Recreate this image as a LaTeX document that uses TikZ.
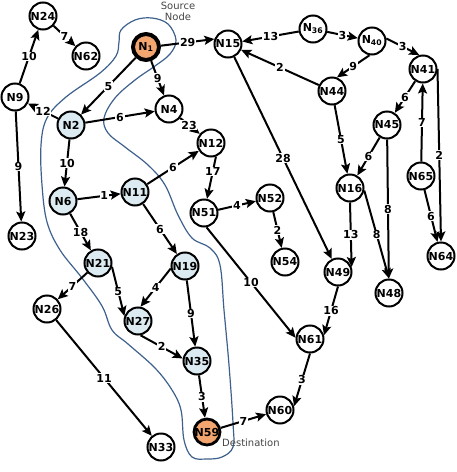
\documentclass[tikz,border=0pt]{standalone}
\usepackage{fontspec}
\setmainfont{DejaVu Sans}
\usepackage{tikz}
\usetikzlibrary{positioning, arrows.meta}

\definecolor{pathblue}{RGB}{219,235,241}
\definecolor{srcorange}{RGB}{243,165,112}
\definecolor{regionblue}{RGB}{62,96,140}
\definecolor{notegray}{RGB}{70,70,70}

\begin{document}
\begin{tikzpicture}[x=1pt, y=-1pt, on grid,
    vtx/.style={circle, draw, line width=2pt, minimum size=27pt, inner sep=0pt, fill=white, font=\fontsize{11}{12}\selectfont\bfseries},
    pathv/.style={vtx, fill=pathblue},
    endv/.style={vtx, fill=srcorange, minimum size=26pt},
    edge/.style={line width=2pt, -{Stealth[length=10pt, width=9pt, inset=2pt]}},
    wt/.style={fill=white, inner sep=0.8pt, font=\fontsize{11}{12}\selectfont\bfseries},
    note/.style={text=notegray, font=\fontsize{10}{11}\selectfont, align=center, inner sep=0pt}]

    \useasboundingbox (0,0) rectangle (456,472);

    % regione del percorso
    \draw[regionblue, line width=1.2pt] plot[smooth cycle, tension=0.6] coordinates {
        (121,30) (135,20) (152,18) (168,24) (176,40) (170,54) (155,66) (135,80)
        (115,98) (104,118) (108,133) (125,147) (148,165) (165,185) (178,215)
        (192,238) (210,248) (220,265) (224,310) (229,365) (233,423) (233,447)
        (222,457) (207,459) (192,457) (184,440) (181,410) (172,390) (155,368)
        (128,344) (112,330) (102,306) (82,278) (60,250) (47,222) (42,185)
        (41,145) (47,118) (66,97) (100,73) (116,56) (119,42)};

    % nodi
    \node[endv, line width=4pt] (N1) at (146,47) {N\textsubscript{1}};
    \node[vtx, above right=3pt and 82pt of N1] (N15) {N15};
    \node[vtx, above right=15pt and 85pt of N15] (N36) {N\textsubscript{36}};
    \node[vtx, below right=12pt and 59pt of N36] (N40) {N\textsubscript{40}};
    \node[vtx, below right=28pt and 51pt of N40] (N41) {N41};
    \node[vtx, below left=50pt and 40pt of N40] (N44) {N44};
    \node[vtx, below left=56pt and 36pt of N41] (N45) {N45};
    \node[vtx, below left=107pt and 2pt of N41] (N65) {N65};
    \node[vtx, below right=80pt and 20pt of N65] (N64) {N64};
    \node[vtx, below right=97pt and 18pt of N44] (N16) {N16};
    \node[vtx, below right=105pt and 39pt of N16] (N48) {N48};
    \node[vtx, below left=84pt and 12pt of N16] (N49) {N49};
    \node[vtx, below left=67pt and 28pt of N49] (N61) {N61};
    \node[vtx, below left=71pt and 30pt of N61] (N60) {N60};
    \node[endv, line width=2.8pt, below left=22pt and 73pt of N60] (N59) {N59};
    \node[pathv, above left=71pt and 10pt of N59] (N35) {N35};
    \node[pathv, above left=40pt and 59pt of N35] (N27) {N27};
    \node[pathv, above left=95pt and 12pt of N35] (N19) {N19};
    \node[pathv, above left=58pt and 40pt of N27] (N21) {N21};
    \node[vtx, below left=46pt and 51pt of N21] (N26) {N26};
    \node[vtx, below right=138pt and 114pt of N26] (N33) {N33};
    \node[pathv, above left=62pt and 35pt of N21] (N6) {N6};
    \node[pathv, above right=9pt and 72pt of N6] (N11) {N11};
    \node[pathv, above right=76pt and 8pt of N6] (N2) {N2};
    \node[vtx, above left=28pt and 56pt of N2] (N9) {N9};
    \node[vtx, above right=81pt and 28pt of N9] (N24) {N24};
    \node[vtx, below right=40pt and 43pt of N24] (N62) {N62};
    \node[vtx, below right=139pt and 7pt of N9] (N23) {N23};
    \node[vtx, below right=62pt and 23pt of N1] (N4) {N4};
    \node[vtx, below right=34pt and 42pt of N4] (N12) {N12};
    \node[vtx, below left=70pt and 7pt of N12] (N51) {N51};
    \node[vtx, above right=15pt and 66pt of N51] (N52) {N52};
    \node[vtx, below right=64pt and 15pt of N52] (N54) {N54};

    \node[note, above right=36pt and 32pt of N1] (srcnote) {Source\\Node};
    \node[note, anchor=west] (dstnote) at ([xshift=15pt, yshift=-11pt]N59.center) {Destination};

    % archi
    \draw[edge] (N9) -- node[wt] {10} (N24);
    \draw[edge] (N24) -- node[wt] {7} (N62);
    \draw[edge] (N1.5) -- node[wt] {29} (N15.160);
    \draw[edge] (N1) -- node[wt] {5} (N2);
    \draw[edge] (N1) -- node[wt] {9} (N4);
    \draw[edge] (N2) -- node[wt] {12} (N9);
    \draw[edge] (N2) -- node[wt] {6} (N4);
    \draw[edge] (N2) -- node[wt] {10} (N6);
    \draw[edge] (N9) -- node[wt] {9} (N23);
    \draw[edge] (N4) -- node[wt, pos=0.45] {23} (N12);
    \draw[edge] (N6) -- node[wt, pos=0.62] {1} (N11);
    \draw[edge] (N11) -- node[wt] {6} (N12);
    \draw[edge] (N12.-70) -- node[wt, pos=0.35] {17} (N51);
    \draw[edge] (N6) -- node[wt] {18} (N21);
    \draw[edge] (N11) -- node[wt] {6} (N19);
    \draw[edge] (N21) -- node[wt] {7} (N26);
    \draw[edge] (N21.-15) -- node[wt] {5} (N27.160);
    \draw[edge] (N19.190) -- node[wt] {4} (N27.80);
    \draw[edge] (N19) -- node[wt] {9} (N35);
    \draw[edge] (N27.-80) -- node[wt] {2} (N35.170);
    \draw[edge] (N35) -- node[wt] {3} (N59);
    \draw[edge] (N26) -- node[wt] {11} (N33);
    \draw[edge] (N59) -- node[wt] {7} (N60);
    \draw[edge] (N51) -- node[wt] {4} (N52);
    \draw[edge] (N52) -- node[wt] {2} (N54);
    \draw[edge] (N51.-80) -- node[wt] {10} (N61.175);
    \draw[edge] (N49.south) -- node[wt] {16} (N61.15);
    \draw[edge] (N61.south) -- node[wt] {3} (N60.15);
    \draw[edge] (N36) -- node[wt] {13} (N15);
    \draw[edge] (N36) -- node[wt] {3} (N40);
    \draw[edge] (N40.10) -- node[wt] {3} (N41.105);
    \draw[edge] (N40.-100) -- node[wt] {9} (N44.70);
    \draw[edge] (N44) -- node[wt] {2} (N15);
    \draw[edge] (N44) -- node[wt] {5} (N16);
    \draw[edge] (N41) -- node[wt] {6} (N45);
    \draw[edge] (N65) -- node[wt] {7} (N41);
    \draw[edge] (N41.east) -- node[wt] {2} (N64.north);
    \draw[edge] (N45) -- node[wt] {6} (N16);
    \draw[edge] (N45) -- node[wt] {8} (N48);
    \draw[edge] (N15) -- node[wt] {28} (N49);
    \draw[edge] (N16.south) -- node[wt] {13} (N49.20);
    \draw[edge] (N16.-10) -- node[wt] {8} (N48.north);
    \draw[edge] (N65) -- node[wt] {6} (N64);

\end{tikzpicture}
\end{document}
